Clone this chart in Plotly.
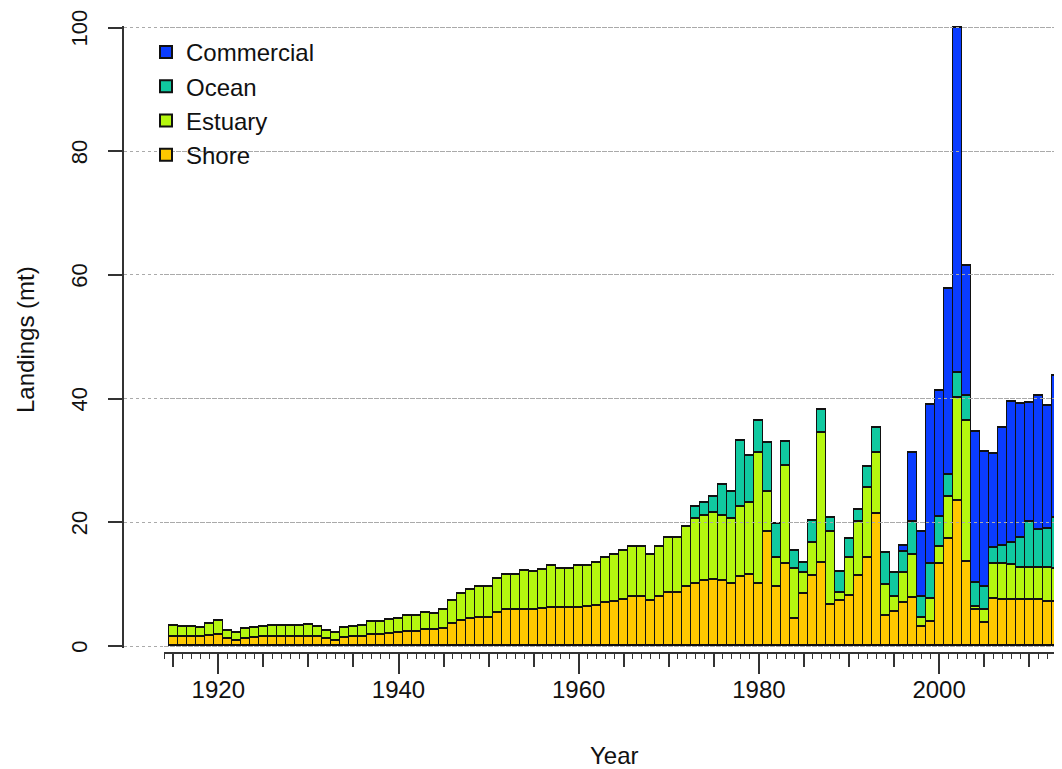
import plotly.graph_objects as go

years = list(range(1915, 2015))

shore = [1.5, 1.4, 1.4, 1.4, 1.6, 1.85, 1.1, 0.85, 1.2, 1.35,
         1.4, 1.45, 1.45, 1.45, 1.5, 1.5, 1.5, 1.1, 0.85, 1.3,
         1.4, 1.5, 1.75, 1.75, 1.95, 2.05, 2.2, 2.3, 2.6, 2.6,
         2.8, 3.5, 4.05, 4.45, 4.5, 4.5, 5.3, 5.75, 5.75, 5.9,
         5.9, 5.95, 6.2, 6.1, 6.1, 6.2, 6.3, 6.5, 6.9, 7.2,
         7.45, 8.0, 8.0, 7.3, 8.0, 8.6, 8.6, 9.5, 10.0, 10.45,
         10.7, 10.45, 10.1, 11.1, 11.5, 10.0, 18.4, 9.6, 13.25, 4.4,
         8.4, 11.4, 13.35, 6.7, 7.3, 8.1, 11.3, 14.3, 21.3, 4.8,
         5.5, 6.9, 7.7, 3.0, 3.9, 13.2, 17.3, 23.5, 13.65, 5.8,
         3.65, 7.6, 7.45, 7.45, 7.45, 7.45, 7.45, 7.2, 7.1, 7.0]

estuary = [1.7, 1.6, 1.6, 1.55, 1.95, 2.25, 1.4, 1.25, 1.5, 1.55,
           1.65, 1.75, 1.75, 1.75, 1.75, 1.85, 1.6, 1.4, 1.3, 1.65,
           1.65, 1.8, 2.15, 2.2, 2.2, 2.35, 2.6, 2.5, 2.8, 2.65,
           2.95, 3.85, 4.35, 4.65, 5.0, 5.0, 5.6, 5.8, 5.8, 6.2,
           6.1, 6.35, 6.7, 6.35, 6.35, 6.7, 6.7, 6.9, 7.3, 7.6,
           7.95, 8.0, 8.0, 7.4, 8.05, 8.8, 8.85, 9.7, 10.6, 10.55,
           10.85, 10.55, 10.5, 11.4, 11.7, 21.25, 6.55, 4.7, 15.85, 8.05,
           3.35, 5.3, 21.15, 11.7, 1.3, 6.2, 8.7, 11.25, 9.95, 5.0,
           2.5, 4.85, 7.1, 1.6, 3.75, 2.75, 6.85, 16.55, 22.75, 0.55,
           2.15, 5.6, 5.75, 5.65, 5.25, 5.25, 5.25, 5.45, 5.35, 5.3]

ocean = [0] * 58 + [
    1.9, 2.1, 2.55, 5.0, 4.35, 10.7, 7.6, 5.15, 7.85, 5.4,
    3.9, 2.95, 1.75, 3.45, 3.7, 2.3, 3.4, 3.05, 2.0, 3.35,
    4.05, 5.25, 3.75, 3.45, 5.3, 3.4, 5.6, 4.95, 3.55, 4.15,
    4.1, 3.9, 3.7, 2.6, 3.0, 3.6, 4.8, 7.4, 6.05, 6.2,
    8.2, 7.2]

commercial = [0] * 81 + [
    1.0, 11.15, 10.5, 25.75, 20.3, 30.1, 55.8, 20.9, 24.3,
    21.9, 15.25, 19.0, 22.8, 21.6, 19.2, 21.75, 19.95, 22.95, 13.8]

series = [("Shore", shore, "#FFC800"),
          ("Estuary", estuary, "#B5F70F"),
          ("Ocean", ocean, "#10C9A0"),
          ("Commercial", commercial, "#0A3CFF")]

# page has an 8px body margin, so work in window pixels and shift
OFF = 8
W, H = 1062 - OFF, 769 - OFF
X1920, PPY = 218.3 - OFF, 9.01    # pixel of 1920 tick, pixels per year
Y0, Y100 = 646 - OFF, 27.5 - OFF  # pixel rows of 0 and 100
PPU = (Y0 - Y100) / 100
EPS = 0.25                        # pad >1px so the 0 and 100 gridlines are kept
AX_LEFT, TICK_LEFT, AX_Y = 124 - OFF, 164 - OFF, 653 - OFF


def yr(px):
    return 1920 + (px - X1920) / PPY


def fx(px):
    return (px - OFF) / W


def fy(py):
    return 1 - (py - OFF) / H


FONT = "Liberation Sans, Arial, sans-serif"

fig = go.Figure()
for name, vals, col in series:
    fig.add_trace(go.Bar(x=years, y=vals, name=name, width=1,
                         marker=dict(color=col, line=dict(color="#111111", width=1.5))))

# empty traces so the two tick-only x axes get drawn
for ax in ("x2", "x3"):
    fig.add_trace(go.Scatter(x=years, y=[None] * len(years), xaxis=ax, yaxis="y",
                             mode="none", showlegend=False, hoverinfo="skip"))

axis_common = dict(showgrid=False, zeroline=False, ticks="outside",
                   tickcolor="#333333", tickwidth=1.5, linecolor="#333333",
                   linewidth=1.5, anchor="free", position=(H - AX_Y) / H,
                   automargin=False)

fig.update_layout(
    width=W, height=H,
    margin=dict(l=0, r=0, t=0, b=0, pad=0, autoexpand=False),
    paper_bgcolor="white", plot_bgcolor="rgba(0,0,0,0)",
    barmode="stack", bargap=0,
    font=dict(family=FONT, size=23, color="#111111"),
    xaxis=dict(domain=[AX_LEFT / W, 1], range=[yr(AX_LEFT), yr(W)],
               showgrid=False, zeroline=False, showline=False,
               showticklabels=False, ticks="", automargin=False),
    xaxis2=dict(axis_common, domain=[TICK_LEFT / W, 1], range=[yr(TICK_LEFT), yr(W)],
                showline=True, tick0=1920, dtick=20, ticklen=20,
                ticklabelstandoff=-5, tickfont=dict(size=24),
                ticklabeloverflow="allow",
                minor=dict(dtick=1, tick0=1920, ticklen=5, ticks="outside",
                           tickcolor="#333333", tickwidth=1.2)),
    xaxis3=dict(axis_common, domain=[TICK_LEFT / W, 1], range=[yr(TICK_LEFT), yr(W)],
                showline=False, tick0=1915, dtick=5, ticklen=13,
                showticklabels=False),
    yaxis=dict(domain=[(H - Y0 - EPS * PPU) / H, (H - Y100 + EPS * PPU) / H],
               range=[-EPS, 100 + EPS],
               anchor="x", tick0=0, dtick=20, ticks="outside", ticklen=14,
               tickcolor="#333333", tickwidth=1.5, showline=True,
               linecolor="#333333", linewidth=1.5, tickangle=-90,
               ticklabelstandoff=12, ticklabelshift=4, tickfont=dict(size=22),
               ticklabeloverflow="allow",
               showgrid=True, gridcolor="#AAAAAA", gridwidth=1.4, griddash="dot",
               zeroline=False, automargin=False),
    legend=dict(x=fx(146), y=fy(30), xanchor="left", yanchor="top",
                traceorder="reversed", bgcolor="rgba(0,0,0,0)",
                font=dict(size=24), itemsizing="constant",
                tracegroupgap=0),
    showlegend=True,
    annotations=[
        dict(text="Year", x=fx(614), y=fy(755), xref="paper", yref="paper",
             xanchor="center", yanchor="middle", showarrow=False,
             font=dict(size=24)),
        dict(text="Landings (mt)", x=fx(25), y=fy(340), xref="paper",
             yref="paper", xanchor="center", yanchor="middle",
             showarrow=False, textangle=-90, font=dict(size=24)),
    ],
)

fig.write_html("out.html")
